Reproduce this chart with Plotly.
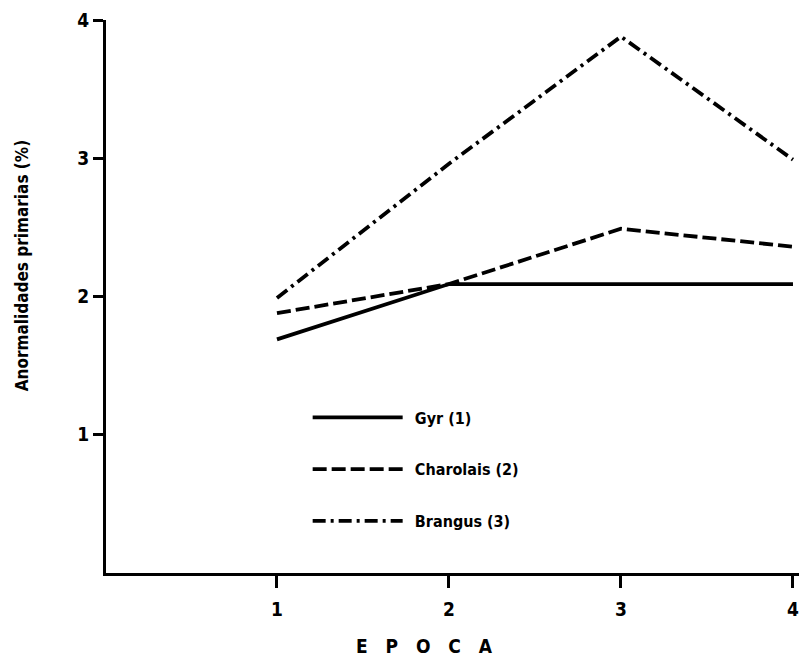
import plotly.graph_objects as go

epoca = [1, 2, 3, 4]
gyr = [1.69, 2.09, 2.09, 2.09]
charolais = [1.88, 2.09, 2.49, 2.36]
brangus = [1.99, 2.96, 3.88, 2.99]
x_ticks = [1, 2, 3, 4]
x_tick_labels = ["1", "2", "3", "4"]
y_ticks = [1, 2, 3, 4]
y_tick_labels = ["1", "2", "3", "4"]
names = ["Gyr (1)", "Charolais (2)", "Brangus (3)"]

FONT = "DejaVu Sans Condensed, Liberation Sans Narrow, sans-serif"

fig = go.Figure()
dashes = ["solid", "14px,5px", "13px,5px,3px,5px"]
for i, (name, vals, dash) in enumerate(zip(names, [gyr, charolais, brangus], dashes)):
    fig.add_trace(go.Scatter(
        x=epoca, y=vals, mode="lines", name="\u2002" + name,
        line=dict(color="black", width=3.8, dash=dash),
        legendgroup=f"g{i}",
    ))

fig.update_layout(
    width=799, height=662,
    margin=dict(l=106, r=0, t=20, b=89, autoexpand=False),
    paper_bgcolor="white", plot_bgcolor="white",
    font=dict(family=FONT, color="black", size=16),
    showlegend=True,
    legend=dict(
        x=0.291, y=0.312, xanchor="left", yanchor="top",
        bgcolor="rgba(0,0,0,0)", itemwidth=90, tracegroupgap=28,
        font=dict(family=FONT, size=16, color="black", weight="bold"),
    ),
    annotations=[
        dict(text="E   P   O   C   A", xref="paper", yref="paper", x=0.460, y=-0.132,
             showarrow=False, xanchor="center", yanchor="middle",
             font=dict(family=FONT, size=19, color="black", weight="bold")),
        dict(text="Anormalidades primarias (%)", xref="paper", yref="paper", x=-0.121, y=0.555,
             showarrow=False, xanchor="center", yanchor="middle", textangle=-90,
             font=dict(family=FONT, size=17, color="black", weight="bold")),
    ],
)
fig.update_xaxes(
    range=[0.006, 4.035], tickvals=x_ticks, ticktext=x_tick_labels,
    showgrid=False, zeroline=False, showline=True, linecolor="black", linewidth=3,
    ticks="outside", ticklen=12, tickwidth=2.5, tickcolor="black",
    tickfont=dict(family=FONT, size=19, color="black", weight="bold"),
    ticklabelstandoff=5, ticklabeloverflow="allow", automargin=False,
)
fig.update_yaxes(
    range=[0, 4], tickvals=y_ticks, ticktext=y_tick_labels,
    ticksuffix="\u2002",
    showgrid=False, zeroline=False, showline=True, linecolor="black", linewidth=3,
    ticks="outside", ticklen=10, tickwidth=2.5, tickcolor="black",
    tickfont=dict(family=FONT, size=19, color="black", weight="bold"),
    automargin=False,
)

fig.write_html(
    "out.html",
    config={"displayModeBar": False},
    post_script="document.body.style.margin='0';document.body.style.overflow='hidden';",
)
